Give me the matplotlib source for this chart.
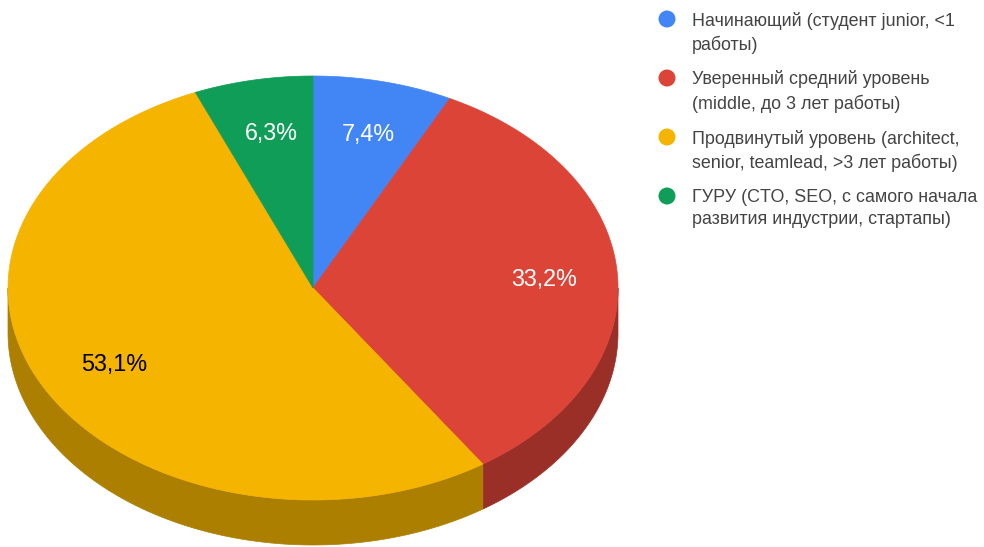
import numpy as np
import matplotlib
matplotlib.use("Agg")
import matplotlib.pyplot as plt
from matplotlib.patches import Polygon, Circle

categories = [
    "Начинающий (студент junior, <1\nработы)",
    "Уверенный средний уровень\n(middle, до 3 лет работы)",
    "Продвинутый уровень (architect,\nsenior, teamlead, >3 лет работы)",
    "ГУРУ (CTO, SEO, с самого начала\nразвития индустрии, стартапы)",
]
values = [7.4, 33.2, 53.1, 6.3]
top_colors = ["#4285F4", "#DB4437", "#F4B400", "#0F9D58"]
side_colors = ["#2F5FAE", "#9A2F28", "#AD7F00", "#0B6F3E"]
label_colors = ["white", "white", "black", "white"]

W, H = 984, 547
fig = plt.figure(figsize=(W / 100, H / 100), dpi=100)
ax = fig.add_axes([0, 0, 1, 1])
ax.set_xlim(0, W)
ax.set_ylim(H, 0)
ax.axis("off")

cx, cy, rx, ry, depth = 313, 288, 305, 212, 45
font = ["Liberation Sans", "DejaVu Sans"]


def pt(t, r=1.0, dy=0.0):
    return cx + r * rx * np.sin(t), cy - r * ry * np.cos(t) + dy


total = sum(values)
fr = np.cumsum([0] + values) / total * 2 * np.pi
starts, ends = fr[:-1], fr[1:]

# side walls (front half only: t in [pi/2, 3pi/2])
for s, e, c in zip(starts, ends, side_colors):
    a, b = max(s, np.pi / 2), min(e, 3 * np.pi / 2)
    if b <= a:
        continue
    t = np.linspace(a, b, 200)
    xt, yt = pt(t)
    xb, yb = pt(t[::-1], dy=depth)
    poly = np.column_stack([np.concatenate([xt, xb]), np.concatenate([yt, yb])])
    ax.add_patch(Polygon(poly, closed=True, facecolor=c, edgecolor=c, lw=0.5))

# top faces
for s, e, c in zip(starts, ends, top_colors):
    t = np.linspace(s, e, 300)
    xt, yt = pt(t)
    poly = np.column_stack([np.concatenate([[cx], xt]), np.concatenate([[cy], yt])])
    ax.add_patch(Polygon(poly, closed=True, facecolor=c, edgecolor=c, lw=0.5))

# labels
for s, e, v, lc in zip(starts, ends, values, label_colors):
    m = (s + e) / 2
    x, y = pt(m, r=0.75)
    ax.text(x + 3, y + 1, f"{v:.1f}%".replace(".", ","), color=lc, fontsize=16.8,
            ha="center", va="center", family=font)

# legend
lx, ly0, step = 667, 19, 59
for i, (cat, c) in enumerate(zip(categories, top_colors)):
    y = ly0 + i * step
    ax.add_patch(Circle((lx, y), 8.5, facecolor=c, edgecolor="none"))
    ax.text(lx + 25, y - 7.5, cat, color="#444444", fontsize=12.9, ha="left",
            va="top", family=font, linespacing=1.4)

fig.savefig("out.png", dpi=100)
